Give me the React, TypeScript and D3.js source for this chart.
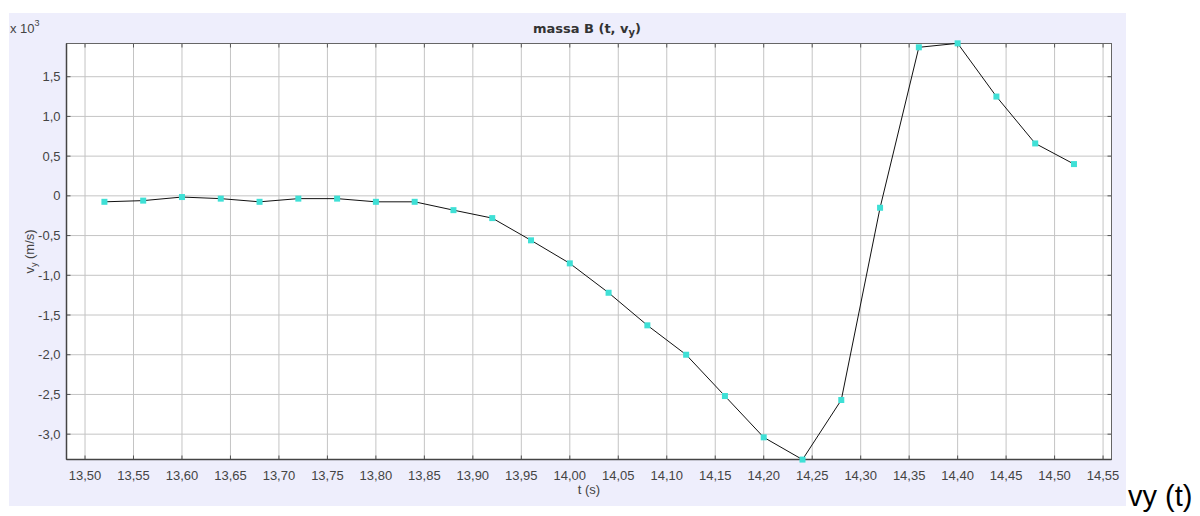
import React from "react";
import * as d3 from "d3";

const times = [13.52, 13.56, 13.6, 13.64, 13.68, 13.72, 13.76, 13.8, 13.84, 13.88, 13.92, 13.96, 14.0, 14.04, 14.08, 14.12, 14.16, 14.2, 14.24, 14.28, 14.32, 14.36, 14.4, 14.44, 14.48, 14.52];
const vy = [-0.075, -0.06, -0.015, -0.035, -0.075, -0.035, -0.035, -0.075, -0.075, -0.18, -0.28, -0.56, -0.85, -1.22, -1.63, -2.0, -2.52, -3.04, -3.32, -2.57, -0.15, 1.87, 1.92, 1.25, 0.66, 0.4];
const xTicks = [13.5, 13.55, 13.6, 13.65, 13.7, 13.75, 13.8, 13.85, 13.9, 13.95, 14.0, 14.05, 14.1, 14.15, 14.2, 14.25, 14.3, 14.35, 14.4, 14.45, 14.5, 14.55];
const yTicks = [1.5, 1.0, 0.5, 0, -0.5, -1.0, -1.5, -2.0, -2.5, -3.0];

const W = 1200, H = 516;
const L = 66.5, R = 1111.5, T = 43.5, B = 459.5;

const fmtX = (v: number) => v.toFixed(2).replace(".", ",");
const fmtY = (v: number) => (v === 0 ? "0" : v.toFixed(1).replace(".", ","));

export default function App() {
  const x = d3.scaleLinear().domain([13.4809, 14.5587]).range([L, R]);
  const y = d3.scaleLinear().domain([1.918, -3.319]).range([T, B]);
  const line = d3.line<number>().x((_, i) => x(times[i])).y((d) => y(d));
  const font = "Arial, 'Liberation Sans', sans-serif";
  return (
    <svg width={W} height={H} style={{ position: "absolute", left: 0, top: 0 }} fontFamily={font}>
      <rect x={0} y={0} width={W} height={H} fill="#ffffff" />
      <rect x={9} y={13} width={1117} height={493} fill="#eeeefc" />
      <rect x={L} y={T} width={R - L} height={B - T} fill="#ffffff" />
      {xTicks.map((t) => (
        <g key={"x" + t}>
          <line x1={x(t)} x2={x(t)} y1={T} y2={B} stroke="#c4c4c4" strokeWidth={1} />
          <line x1={x(t)} x2={x(t)} y1={B} y2={B - 4} stroke="#555" strokeWidth={1} />
          <line x1={x(t)} x2={x(t)} y1={T} y2={T + 4} stroke="#555" strokeWidth={1} />
          <text x={x(t)} y={480} textAnchor="middle" fontSize={13} fill="#444">
            {fmtX(t)}
          </text>
        </g>
      ))}
      {yTicks.map((v) => (
        <g key={"y" + v}>
          <line x1={L} x2={R} y1={y(v)} y2={y(v)} stroke="#c4c4c4" strokeWidth={1} />
          <line x1={L} x2={L + 4} y1={y(v)} y2={y(v)} stroke="#555" strokeWidth={1} />
          <line x1={R - 4} x2={R} y1={y(v)} y2={y(v)} stroke="#555" strokeWidth={1} />
          <text x={L - 6} y={y(v) + 4.5} textAnchor="end" fontSize={13} fill="#444">
            {fmtY(v)}
          </text>
        </g>
      ))}
      <rect x={L} y={T} width={R - L} height={B - T} fill="none" stroke="#666" strokeWidth={1} />
      <line x1={L} x2={L} y1={T} y2={B} stroke="#444" strokeWidth={1.5} />
      <line x1={L} x2={R} y1={B} y2={B} stroke="#444" strokeWidth={1.5} />
      <path d={line(vy) || ""} fill="none" stroke="#111" strokeWidth={1} />
      {vy.map((v, i) => (
        <rect key={"p" + i} x={x(times[i]) - 3} y={y(v) - 3} width={6} height={6} fill="#3fe0d6" />
      ))}
      <text x={L + (R - L) / 2 - 2} y={33} textAnchor="middle" fontSize={13} fontWeight="bold" fill="#333" fontFamily="'DejaVu Sans', sans-serif">
        massa B (t, v<tspan fontSize={10} dy={3}>y</tspan><tspan dy={-3}>)</tspan>
      </text>
      <text x={10} y={33} fontSize={13} fill="#444">
        x 10<tspan fontSize={9} dy={-7}>3</tspan>
      </text>
      <text transform={`translate(34, ${(T + B) / 2}) rotate(-90)`} textAnchor="middle" fontSize={13} fill="#444">
        v<tspan fontSize={9} dy={3}>y</tspan><tspan dy={-3}> (m/s)</tspan>
      </text>
      <text x={L + (R - L) / 2} y={494} textAnchor="middle" fontSize={13} fill="#444">
        t (s)
      </text>
      <text x={1128} y={506} fontSize={29} fill="#000">
        vy (t)
      </text>
    </svg>
  );
}
